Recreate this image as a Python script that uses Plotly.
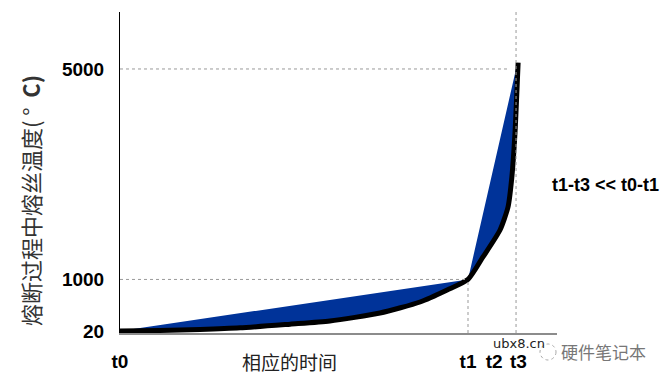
import plotly.graph_objects as go

# ---- data ----
time_curve = [0, 1.15, 2.30, 3.45, 4.89, 6.03, 7.47, 8.62, 9.40, 10.0, 10.43, 10.92, 11.15, 11.26, 11.35, 11.44]
temp_curve = [20, 30, 50, 80, 150, 210, 362, 571, 799, 1000, 1427, 1940, 2377, 2947, 3784, 5120]
chord_time = [0, 10.0, 11.38]
chord_temp = [20, 1000, 5000]
tick_times = [0, 10.0, 10.75, 11.45]
tick_time_labels = ["t0", "t1", "t2", "t3"]
temp_ticks = [20, 1000, 5000]
temp_tick_labels = ["<b>20</b>", "<b>1000</b>", "<b>5000</b>"]

W, H = 664, 381
L, R, T, B = 120, 107, 12, 48
PW, PH = W - L - R, H - T - B

def px(x):
    return (x - L) / PW

def py(y):
    return (H - B - y) / PH

fig = go.Figure()

# blue area between chord and curve
poly_x = chord_time + time_curve[::-1]
poly_y = chord_temp + temp_curve[::-1]
fig.add_trace(go.Scatter(x=poly_x, y=poly_y, mode="lines", fill="toself",
                         fillcolor="#003399", line=dict(width=0, color="#003399"),
                         hoverinfo="skip", showlegend=False))
# black curve
fig.add_trace(go.Scatter(x=time_curve, y=temp_curve, mode="lines",
                         line=dict(color="black", width=5, shape="spline", smoothing=0.6),
                         showlegend=False))

dot = dict(color="#999999", width=1, dash="dot")
fig.add_shape(type="line", x0=0, x1=11.18, y0=5000, y1=5000, line=dot)
fig.add_shape(type="line", x0=0, x1=10.0, y0=1000, y1=1000, line=dot)
fig.add_shape(type="line", x0=10.0, x1=10.0, y0=-18, y1=1000, line=dot)
fig.add_shape(type="line", x0=11.38, x1=11.38, yref="paper", y0=0, y1=1, line=dot)

fig.update_layout(
    width=W, height=H, margin=dict(l=L, r=R, t=T, b=B, autoexpand=False),
    paper_bgcolor="white", plot_bgcolor="white",
    font=dict(family="Liberation Sans, Arial", color="black"),
    xaxis=dict(range=[0, 12.557], showgrid=False, zeroline=False, automargin=False,
               showline=True, linecolor="#8c8c8c", linewidth=1.5,
               tickvals=tick_times, ticktext=["<b>%s</b>" % t for t in tick_time_labels],
               tickfont=dict(size=19, family="Liberation Sans"),
               ticks="", ticklabelstandoff=10),
    yaxis=dict(range=[-18, 6083], showgrid=False, zeroline=False, automargin=False,
               showline=True, linecolor="black", linewidth=1,
               tickvals=temp_ticks, ticktext=temp_tick_labels,
               tickfont=dict(size=19, family="Liberation Sans"),
               ticks="", ticklabelstandoff=11),
)

cjk = "Noto Sans CJK SC"
fig.add_annotation(x=px(30), y=py(201), xref="paper", yref="paper",
                   text="熔断过程中熔丝温度( °  <b>C)</b>", textangle=-90, showarrow=False,
                   xanchor="center", yanchor="middle",
                   font=dict(family=cjk, size=22, color="#333333"))
fig.add_annotation(x=px(289), y=py(362), xref="paper", yref="paper",
                   text="相应的时间", showarrow=False, xanchor="center", yanchor="middle",
                   font=dict(family=cjk, size=19, color="#222222"))
fig.add_annotation(x=px(550), y=py(185), xref="paper", yref="paper",
                   text="<b>t1-t3 << t0-t1</b>", showarrow=False, xanchor="left", yanchor="middle",
                   font=dict(family="Liberation Sans", size=18, color="black"))
# watermark
fig.add_annotation(x=px(519), y=py(343), xref="paper", yref="paper",
                   text="ubx8.cn", showarrow=False, xanchor="center", yanchor="middle",
                   font=dict(family="DejaVu Sans", size=13, color="#222222"))
fig.add_shape(type="circle", xref="paper", yref="paper",
              x0=px(540), x1=px(556), y0=py(344), y1=py(360),
              line=dict(color="#aaaaaa", width=1, dash="dot"))
fig.add_annotation(x=px(603), y=py(352), xref="paper", yref="paper",
                   text="硬件笔记本", showarrow=False, xanchor="center", yanchor="middle",
                   font=dict(family=cjk, size=17, color="#777777"))

fig.write_html("out.html")
